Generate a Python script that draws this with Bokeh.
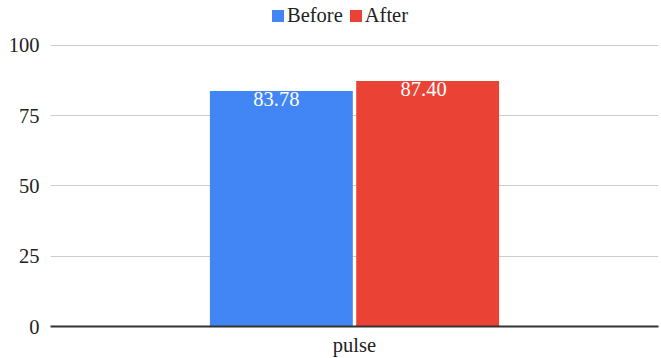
from bokeh.plotting import figure
from bokeh.models import ColumnDataSource, Range1d, FactorRange, Legend, LegendItem
from bokeh.transform import dodge
from bokeh.embed import file_html
from bokeh.resources import INLINE
from bokeh.core.properties import value

categories = ["pulse"]
before = [83.78]
after = [87.40]
series_names = ["Before", "After"]
colors = ["#4285F4", "#EA4335"]
y_ticks = [0, 25, 50, 75, 100]

FONT = "Times New Roman"
FS = "20.5px"

src = ColumnDataSource(dict(
    cat=categories,
    before=before,
    after=after,
    before_lbl=[f"{v:.2f}" for v in before],
    after_lbl=[f"{v:.2f}" for v in after],
))

p = figure(width=661, height=358, x_range=FactorRange(*categories, range_padding=0),
           y_range=Range1d(0, 116.0), output_backend="svg", toolbar_location=None,
           min_border_left=50, min_border_right=3, min_border_top=0, min_border_bottom=25)

bw = 0.235
off = 0.1203
xb = dodge("cat", -off, range=p.x_range)
xa = dodge("cat", off, range=p.x_range)
r1 = p.vbar(x=xb, top="before", width=bw, source=src, fill_color=colors[0], line_color=None)
r2 = p.vbar(x=xa, top="after", width=bw, source=src, fill_color=colors[1], line_color=None)

p.text(x=xb, y="before", text="before_lbl", source=src,
       text_color="white", text_font=value(FONT), text_font_size=FS,
       text_align="center", text_baseline="top", y_offset=1, x_offset=-5)
p.text(x=xa, y="after", text="after_lbl", source=src,
       text_color="white", text_font=value(FONT), text_font_size=FS,
       text_align="center", text_baseline="top", y_offset=1, x_offset=-4)

legend = Legend(items=[LegendItem(label=series_names[0], renderers=[r1]),
                       LegendItem(label=series_names[1], renderers=[r2])],
                orientation="horizontal", location=(220, 299),
                label_text_font=FONT, label_text_font_size=FS, label_text_color="#222222",
                glyph_width=15, glyph_height=15, spacing=5, label_standoff=2,
                padding=0, margin=0, border_line_color=None, background_fill_alpha=0)
p.add_layout(legend)

p.outline_line_color = None
p.xgrid.grid_line_color = None
p.ygrid.grid_line_color = "#cccccc"
p.ygrid.grid_line_width = 1
p.yaxis.ticker = y_ticks
p.yaxis.axis_line_color = None
p.yaxis.major_tick_line_color = None
p.yaxis.minor_tick_line_color = None
p.yaxis.major_label_text_font = FONT
p.yaxis.major_label_text_font_size = FS
p.yaxis.major_label_text_color = "#222222"
p.yaxis.major_label_standoff = 5

p.xaxis.axis_line_color = "#333333"
p.xaxis.axis_line_width = 2
p.xaxis.major_tick_line_color = None
p.xaxis.minor_tick_line_color = None
p.xaxis.major_label_text_font = FONT
p.xaxis.major_label_text_font_size = FS
p.xaxis.major_label_text_color = "#222222"
p.xaxis.major_label_standoff = 1

open("out.html", "w").write(file_html(p, INLINE))
